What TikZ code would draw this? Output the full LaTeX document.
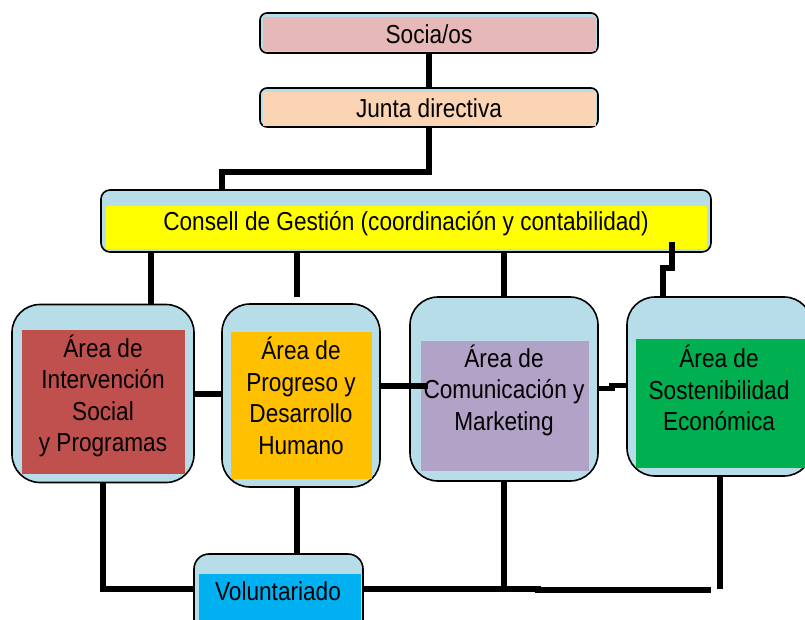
\documentclass[tikz,border=0pt]{standalone}
\usepackage{fontspec}
\setmainfont{Liberation Sans}[FakeStretch=0.87]
\definecolor{lb}{HTML}{B7DEE8}
\definecolor{pinkc}{HTML}{E6B9B8}
\definecolor{peachc}{HTML}{FBD4B4}
\definecolor{yellowc}{HTML}{FFFF00}
\definecolor{redc}{HTML}{C0504D}
\definecolor{orangec}{HTML}{FFC000}
\definecolor{purplec}{HTML}{B2A2C7}
\definecolor{greenc}{HTML}{00B050}
\definecolor{bluec}{HTML}{00B0F0}
\begin{document}
\begin{tikzpicture}[x=1pt,y=-1pt,
  outer/.style={draw=black, line width=1.6pt, fill=lb, rounded corners=#1, inner sep=0pt, outer sep=0pt, rectangle},
  inner/.style={draw=none, inner sep=0pt, outer sep=0pt, rectangle},
  lbl/.style={font=\fontsize{26}{31.5}\selectfont, align=center, inner sep=0pt, text=black},
  conn/.style={line width=5.5pt, line join=miter, draw=black}]
\useasboundingbox (0,0) rectangle (805,620);
\clip (0,0) rectangle (805,620);

% top boxes
\node[outer=7pt, minimum width=338pt, minimum height=40pt] (soc) at (429,33) {};
\node[inner, fill=pinkc, minimum width=333pt, minimum height=34.5pt] (socI) at (429,34.25) {};
\node[lbl] (socT) at (429,34) {Socia/os};

\node[outer=7pt, minimum width=338pt, minimum height=39pt] (jd) at (429,107.5) {};
\node[inner, fill=peachc, minimum width=333pt, minimum height=34.5pt] (jdI) at (429,109) {};
\node[lbl] (jdT) at (429,108) {Junta directiva};

\node[outer=9pt, minimum width=610pt, minimum height=62pt] (cg) at (406,221) {};
\node[inner, fill=yellowc, minimum width=601pt, minimum height=43pt] (cgI) at (406,228) {};
\node[lbl] (cgT) at (406,224) {Consell de Gestión (coordinación y contabilidad)};

% area boxes
\node[outer=28pt, minimum width=182pt, minimum height=178pt] (a1) at (103,393.5) {};
\node[inner, fill=redc, minimum width=163pt, minimum height=144pt] (a1I) at (103.5,402) {};
\node[lbl] (a1T) at (103,396) {Área de\\Intervención\\Social\\y Programas};

\node[outer=28pt, minimum width=158pt, minimum height=183pt] (a2) at (301,395.5) {};
\node[inner, fill=orangec, minimum width=141pt, minimum height=147pt] (a2I) at (301.5,405.5) {};
\node[lbl] (a2T) at (301,396) {Área de\\Progreso y\\Desarrollo\\Humano};

\node[outer=28pt, minimum width=188pt, minimum height=184pt] (a3) at (504,389) {};
\node[inner, fill=purplec, minimum width=168pt, minimum height=130pt] (a3I) at (505,406) {};
\node[lbl] (a3T) at (504,390) {Área de\\Comunicación y\\Marketing};

\node[outer=28pt, minimum width=185pt, minimum height=179pt] (a4) at (719.5,386.5) {};
\node[inner, fill=greenc, minimum width=174pt, minimum height=129pt] (a4I) at (723,403.5) {};
\node[lbl] (a4T) at (719,388) {Área de\\Sostenibilidad\\Económica};

% voluntariado
\node[outer=15pt, minimum width=169pt, minimum height=96pt] (vol) at (278.5,602) {};
\node[inner, fill=bluec, minimum width=162pt, minimum height=66pt] (volI) at (280,607) {};
\node[lbl] (volT) at (278,591) {Voluntariado};

% helper coordinates
\coordinate (j1) at (222,172);
\coordinate (c1) at (151,0);
\coordinate (c2) at (297,0);
\coordinate (c2e) at (297,297);
\coordinate (c3) at (504,0);
\coordinate (c4a) at (672,242);
\coordinate (c4b) at (663,268);
\coordinate (h1) at (0,394);
\coordinate (h2) at (0,386);
\coordinate (h2e) at (428,386);
\coordinate (h3a) at (0,388.5);
\coordinate (h3m) at (612,385.5);
\coordinate (b0) at (0,589);
\coordinate (b2) at (297,0);
\coordinate (b3) at (504,0);
\coordinate (b4) at (720,0);
\coordinate (bj) at (538,590);
\coordinate (bend) at (711,590);

% connectors
\draw[conn, line width=6pt] (soc.south) -- (jd.north);
\draw[conn, line width=6pt] (jd.south) |- (j1) -- (j1 |- cg.north);
\draw[conn] (cg.south -| c1) -- (a1.north -| c1);
\draw[conn] (cg.south -| c2) -- (c2e);
\draw[conn] (cg.south -| c3) -- (a3.north -| c3);
\draw[conn] (c4a) |- (c4b) -- (c4b |- a4.north);
\draw[conn] (a1.east |- h1) -- (a2.west |- h1);
\draw[conn] (a2.east |- h2) -- (h2e);
\draw[conn] (a3.east |- h3a) -| (h3m) -- (a4.west |- h3m);
\draw[conn] (a1.south) |- (vol.west |- b0);
\draw[conn] (a2.south -| b2) -- (vol.north -| b2);
\draw[conn] (vol.east |- b0) -- (bj |- b0) -- (bj) -- (bend);
\draw[conn] (a3.south -| b3) -- (b3 |- b0);
\draw[conn] (a4.south -| b4) -- (b4 |- b0);
\end{tikzpicture}
\end{document}
